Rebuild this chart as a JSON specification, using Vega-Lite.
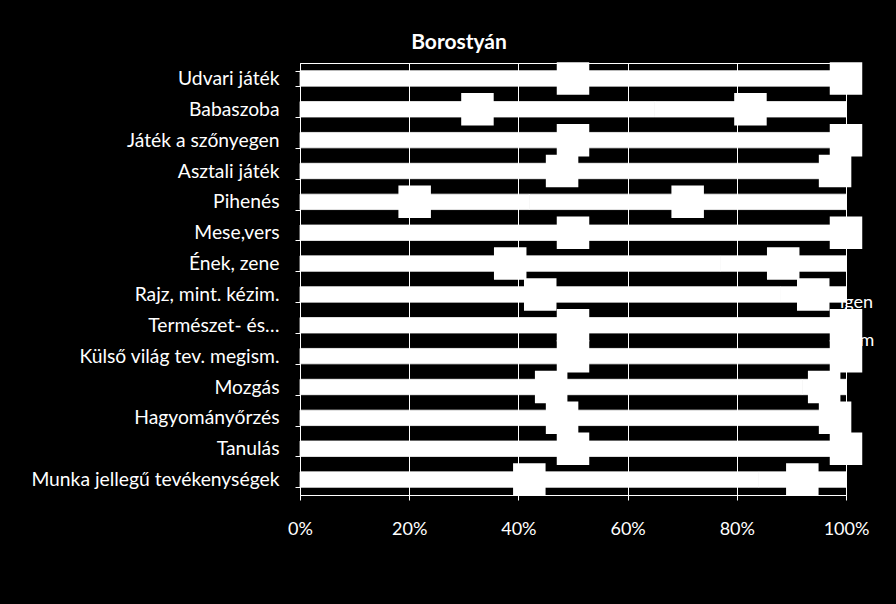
{
  "$schema": "https://vega.github.io/schema/vega-lite/v6.json",
  "width": 546,
  "height": 432,
  "autosize": {"type": "none"},
  "padding": {"left": 300, "top": 63, "right": 50, "bottom": 109},
  "background": "black",
  "title": {"text": "Borostyán", "font": "Lato", "fontSize": 21, "fontWeight": "bold", "color": "white", "anchor": "middle", "dx": -114, "offset": -16, "baseline": "alphabetic"},
  "data": {"values": [
    {"cat": "Udvari játék", "ans": "igen", "v": 100}, {"cat": "Udvari játék", "ans": "nem", "v": 0},
    {"cat": "Babaszoba", "ans": "igen", "v": 65}, {"cat": "Babaszoba", "ans": "nem", "v": 35},
    {"cat": "Játék a szőnyegen", "ans": "igen", "v": 100}, {"cat": "Játék a szőnyegen", "ans": "nem", "v": 0},
    {"cat": "Asztali játék", "ans": "igen", "v": 96}, {"cat": "Asztali játék", "ans": "nem", "v": 4},
    {"cat": "Pihenés", "ans": "igen", "v": 42}, {"cat": "Pihenés", "ans": "nem", "v": 58},
    {"cat": "Mese,vers", "ans": "igen", "v": 100}, {"cat": "Mese,vers", "ans": "nem", "v": 0},
    {"cat": "Ének, zene", "ans": "igen", "v": 77}, {"cat": "Ének, zene", "ans": "nem", "v": 23},
    {"cat": "Rajz, mint. kézim.", "ans": "igen", "v": 88}, {"cat": "Rajz, mint. kézim.", "ans": "nem", "v": 12},
    {"cat": "Természet- és…", "ans": "igen", "v": 100}, {"cat": "Természet- és…", "ans": "nem", "v": 0},
    {"cat": "Külső világ tev. megism.", "ans": "igen", "v": 100}, {"cat": "Külső világ tev. megism.", "ans": "nem", "v": 0},
    {"cat": "Mozgás", "ans": "igen", "v": 92}, {"cat": "Mozgás", "ans": "nem", "v": 8},
    {"cat": "Hagyományőrzés", "ans": "igen", "v": 96}, {"cat": "Hagyományőrzés", "ans": "nem", "v": 4},
    {"cat": "Tanulás", "ans": "igen", "v": 100}, {"cat": "Tanulás", "ans": "nem", "v": 0},
    {"cat": "Munka jellegű tevékenységek", "ans": "igen", "v": 84}, {"cat": "Munka jellegű tevékenységek", "ans": "nem", "v": 16}
  ]},
  "encoding": {
    "y": {"field": "cat", "type": "nominal", "sort": null,
      "scale": {"paddingInner": 0.5, "paddingOuter": 0.25},
      "axis": {"title": null, "labelColor": "white", "labelFont": "Lato", "labelFontSize": 19.3, "labelLimit": 400, "tickColor": "white", "domainColor": "white", "tickSize": 5, "labelPadding": 16, "tickBand": "extent", "grid": false}}
  },
  "layer": [
    {
      "mark": {"type": "bar", "color": "white", "stroke": "white", "strokeWidth": 0.8},
      "encoding": {
        "x": {"field": "v", "type": "quantitative", "stack": "normalize",
          "axis": {"title": null, "format": "%", "values": [0, 0.2, 0.4, 0.6, 0.8, 1], "labelFlush": false, "labelColor": "white", "labelFont": "Lato", "labelFontSize": 18, "tickColor": "white", "domainColor": "white", "tickSize": 5, "labelPadding": 20, "grid": true, "gridColor": "white", "gridOpacity": 1}},
        "color": {"field": "ans", "type": "nominal", "scale": {"range": ["white", "white"]},
          "legend": {"orient": "none", "legendX": 518, "legendY": 231, "title": null, "labelColor": "white", "labelFont": "Lato", "labelFontSize": 18, "symbolType": "square", "symbolOpacity": 0, "symbolSize": 64, "rowPadding": 20, "direction": "vertical"}},
        "order": {"field": "ans", "sort": "ascending"}
      }
    },
    {
      "mark": {"type": "point", "shape": "square", "filled": true, "size": 1056, "opacity": 1, "color": "white"},
      "encoding": {
        "x": {"field": "v", "type": "quantitative", "stack": "normalize", "bandPosition": 0.5},
        "detail": {"field": "ans"},
        "order": {"field": "ans", "sort": "ascending"}
      }
    }
  ],
  "config": {"view": {"stroke": "white", "strokeWidth": 1}}
}
